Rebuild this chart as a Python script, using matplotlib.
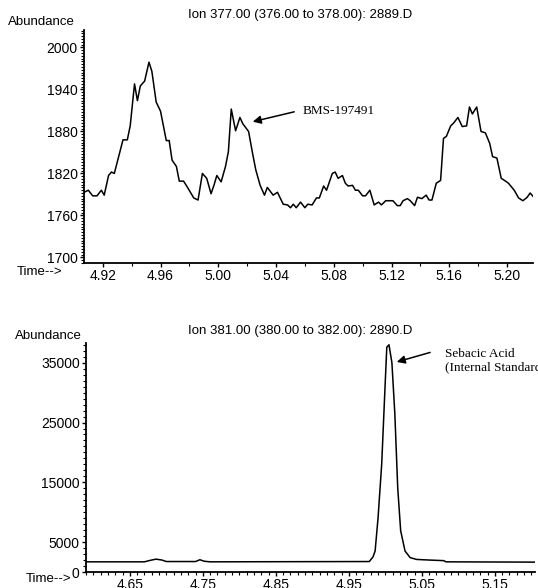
import matplotlib
matplotlib.use("Agg")
import matplotlib.pyplot as plt
from matplotlib.ticker import MultipleLocator, FixedLocator

plt.rcParams['font.family'] = ['Liberation Sans', 'DejaVu Sans']

# Ion 377 trace (top)
t_377 = [4.907, 4.910, 4.913, 4.916, 4.919, 4.921, 4.924, 4.926, 4.928, 4.931,
         4.934, 4.937, 4.939, 4.942, 4.944, 4.946, 4.949, 4.952, 4.954, 4.957,
         4.960, 4.964, 4.966, 4.968, 4.971, 4.973, 4.976, 4.979, 4.983, 4.986,
         4.989, 4.992, 4.995, 4.997, 4.999, 5.002, 5.005, 5.007, 5.009, 5.012,
         5.015, 5.017, 5.021, 5.024, 5.026, 5.029, 5.032, 5.034, 5.038, 5.041,
         5.045, 5.048, 5.050, 5.052, 5.054, 5.057, 5.060, 5.062, 5.065, 5.068,
         5.070, 5.073, 5.075, 5.079, 5.081, 5.083, 5.086, 5.088, 5.090, 5.093,
         5.095, 5.097, 5.100, 5.102, 5.105, 5.108, 5.111, 5.113, 5.116, 5.118,
         5.121, 5.124, 5.126, 5.128, 5.131, 5.133, 5.136, 5.138, 5.141, 5.144,
         5.146, 5.148, 5.151, 5.154, 5.156, 5.158, 5.161, 5.163, 5.166, 5.169,
         5.172, 5.174, 5.176, 5.179, 5.182, 5.185, 5.188, 5.190, 5.193, 5.196,
         5.199, 5.201, 5.205, 5.208, 5.211, 5.214, 5.216, 5.219]
a_377 = [1793, 1796, 1788, 1788, 1796, 1789, 1817, 1822, 1820, 1844,
         1868, 1868, 1888, 1948, 1924, 1945, 1952, 1979, 1966, 1922,
         1909, 1867, 1867, 1839, 1830, 1809, 1809, 1799, 1785, 1782,
         1820, 1813, 1791, 1803, 1817, 1808, 1830, 1851, 1912, 1881,
         1900, 1891, 1880, 1846, 1825, 1803, 1789, 1800, 1789, 1793,
         1776, 1775, 1771, 1776, 1771, 1779, 1771, 1776, 1775, 1785,
         1785, 1802, 1796, 1820, 1822, 1813, 1817, 1806, 1802, 1803,
         1796, 1796, 1788, 1788, 1796, 1775, 1779, 1775, 1781, 1781,
         1781, 1774, 1774, 1781, 1784, 1781, 1774, 1786, 1784, 1789,
         1782, 1782, 1806, 1810, 1870, 1873, 1888, 1892, 1900, 1887,
         1888, 1915, 1905, 1915, 1880, 1878, 1863, 1844, 1842, 1813,
         1809, 1806, 1796, 1785, 1781, 1786, 1792, 1785]

# Ion 381 trace (bottom)
t_381 = [4.590, 4.670, 4.678, 4.686, 4.694, 4.700, 4.740, 4.746, 4.752, 4.760,
         4.978, 4.983, 4.986, 4.990, 4.995, 4.999, 5.002, 5.005, 5.009, 5.013,
         5.017, 5.021, 5.027, 5.034, 5.043, 5.060, 5.080, 5.083, 5.205]
a_381 = [1700, 1700, 1950, 2150, 2000, 1750, 1750, 2050, 1800, 1700,
         1750, 2500, 3500, 9000, 18000, 29300, 37600, 38000, 35000, 26500,
         14000, 6900, 3500, 2400, 2100, 2000, 1900, 1700, 1650]

top_ticks = [4.92, 4.96, 5.00, 5.04, 5.08, 5.12, 5.16, 5.20]
top_yticks = [1700, 1760, 1820, 1880, 1940, 2000]
bot_ticks = [4.65, 4.75, 4.85, 4.95, 5.05, 5.15]
bot_yticks = [0, 5000, 15000, 25000, 35000]

W, H = 538, 588
fig = plt.figure(figsize=(W / 100, H / 100), dpi=100)


def style(ax):
    for s in ['top', 'right']:
        ax.spines[s].set_visible(False)
    for s in ['left', 'bottom']:
        ax.spines[s].set_linewidth(1.3)
    ax.tick_params(which='major', direction='out', length=3, width=1, labelsize=10, pad=1.5)
    ax.tick_params(which='minor', direction='out', length=2, width=0.8)


ax1 = fig.add_axes([84 / W, 1 - 263 / H, 449 / W, 233 / H])
ax1.plot(t_377, a_377, color='black', lw=1.1)
ax1.set_xlim(4.907, 5.218)
ax1.set_ylim(1692, 2025)
ax1.set_xticks(top_ticks)
ax1.set_xticklabels([f"{v:.2f}" for v in top_ticks])
ax1.set_yticks(top_yticks)
ax1.xaxis.set_minor_locator(MultipleLocator(0.02))
ax1.yaxis.set_minor_locator(MultipleLocator(4))
style(ax1)
ax1.annotate("", xy=(5.022, 1893), xytext=(5.0545, 1909),
             arrowprops=dict(arrowstyle='-|>', color='black', lw=1.1, mutation_scale=12))
ax1.text(5.0586, 1909, "BMS-197491", family='Liberation Serif', fontsize=9.5, va='center')

ax2 = fig.add_axes([86 / W, 1 - 572 / H, 449 / W, 229 / H])
ax2.plot(t_381, a_381, color='black', lw=1.1)
ax2.set_xlim(4.59, 5.205)
ax2.set_ylim(0, 38300)
ax2.set_xticks(bot_ticks)
ax2.set_xticklabels([f"{v:.2f}" for v in bot_ticks])
ax2.yaxis.set_major_locator(FixedLocator(bot_yticks))
ax2.xaxis.set_minor_locator(MultipleLocator(0.01))
ax2.yaxis.set_minor_locator(MultipleLocator(1000))
style(ax2)
ax2.annotate("", xy=(5.012, 35000), xytext=(5.065, 36850),
             arrowprops=dict(arrowstyle='-|>', color='black', lw=1.1, mutation_scale=12))
ax2.text(5.0815, 35300, "Sebacic Acid\n(Internal Standard", family='Liberation Serif',
         fontsize=9.5, va='center', linespacing=1.1)

fig.text(41 / W, 1 - 22 / H, "Abundance", fontsize=9.5, ha='center', va='center')
fig.text(300 / W, 1 - 15 / H, "Ion 377.00 (376.00 to 378.00): 2889.D", fontsize=9.5,
         ha='center', va='center')
fig.text(40 / W, 1 - 272 / H, "Time-->", fontsize=9.5, ha='center', va='center')

fig.text(48 / W, 1 - 336 / H, "Abundance", fontsize=9.5, ha='center', va='center')
fig.text(300 / W, 1 - 331 / H, "Ion 381.00 (380.00 to 382.00): 2890.D", fontsize=9.5,
         ha='center', va='center')
fig.text(71 / W, 1 - 579 / H, "Time-->", fontsize=9.5, ha='right', va='center')

fig.savefig("out.png", dpi=100)
